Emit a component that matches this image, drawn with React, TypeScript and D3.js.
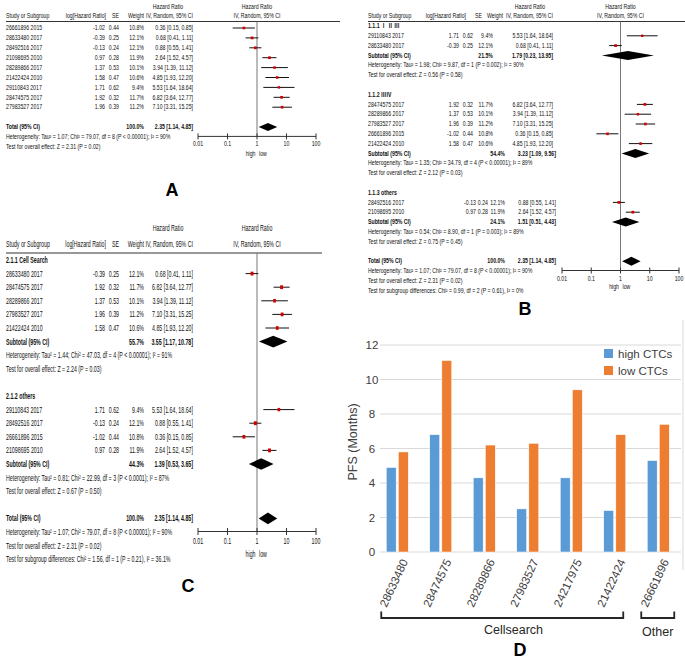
import React from 'react';
import * as d3 from 'd3';

// ---------------- data ----------------
const studyIds = ['26661896 2015', '28633480 2017', '28492516 2017', '21098695 2010', '28289866 2017', '21422424 2010', '29110843 2017', '28474575 2017', '27983527 2017'];
const logHR = [-1.02, -0.39, -0.13, 0.97, 1.37, 1.58, 1.71, 1.92, 1.96];
const seLogHR = [0.44, 0.25, 0.24, 0.28, 0.53, 0.47, 0.62, 0.32, 0.39];
const weightPct = [10.8, 12.1, 12.1, 11.9, 10.1, 10.6, 9.4, 11.7, 11.2];
const hrValue = [0.36, 0.68, 0.88, 2.64, 3.94, 4.85, 5.53, 6.82, 7.10];
const hrLower = [0.15, 0.41, 0.55, 1.52, 1.39, 1.93, 1.64, 3.64, 3.31];
const hrUpper = [0.85, 1.11, 1.41, 4.57, 11.12, 12.20, 18.64, 12.77, 15.25];

const totalWeight = 100.0;
const totalHR = 2.35;
const totalLower = 1.14;
const totalUpper = 4.85;
const totalHet = 'Heterogeneity: Tau² = 1.07; Chi² = 79.07, df = 8 (P < 0.00001); I² = 90%';
const totalTest = 'Test for overall effect: Z = 2.31 (P = 0.02)';

const headerTop = 'Hazard Ratio';
const headerCols = ['Study or Subgroup', 'log[Hazard Ratio]', 'SE', 'Weight', 'IV, Random, 95% CI'];
const axisTicks = [0.01, 0.1, 1, 10, 100];
const axisTickLabels = ['0.01', '0.1', '1', '10', '100'];
const favourLabels = ['high', 'low'];

// Panel B subgroups
const bGroupNames = ['1.1.1 Ⅰ Ⅱ Ⅲ', '1.1.2 ⅢⅣ', '1.1.3 others'];
const bGroupStudies = [
  ['29110843 2017', '28633480 2017'],
  ['28474575 2017', '28289866 2017', '27983527 2017', '26661896 2015', '21422424 2010'],
  ['28492516 2017', '21098695 2010'],
];
const bSubWeight = [21.5, 54.4, 24.1];
const bSubHR = [1.79, 3.23, 1.51];
const bSubLower = [0.23, 1.09, 0.51];
const bSubUpper = [13.95, 9.56, 4.43];
const bSubHet = [
  'Heterogeneity: Tau² = 1.98; Chi² = 9.87, df = 1 (P = 0.002); I² = 90%',
  'Heterogeneity: Tau² = 1.35; Chi² = 34.79, df = 4 (P < 0.00001); I² = 89%',
  'Heterogeneity: Tau² = 0.54; Chi² = 8.90, df = 1 (P = 0.003); I² = 89%',
];
const bSubTest = [
  'Test for overall effect: Z = 0.56 (P = 0.58)',
  'Test for overall effect: Z = 2.12 (P = 0.03)',
  'Test for overall effect: Z = 0.75 (P = 0.45)',
];
const bDiff = 'Test for subgroup differences: Chi² = 0.99, df = 2 (P = 0.61), I² = 0%';

// Panel C subgroups
const cGroupNames = ['2.1.1 Cell Search', '2.1.2 others'];
const cGroupStudies = [
  ['28633480 2017', '28474575 2017', '28289866 2017', '27983527 2017', '21422424 2010'],
  ['29110843 2017', '28492516 2017', '26661896 2015', '21098695 2010'],
];
const cSubWeight = [55.7, 44.3];
const cSubHR = [3.55, 1.39];
const cSubLower = [1.17, 0.53];
const cSubUpper = [10.78, 3.65];
const cSubHet = [
  'Heterogeneity: Tau² = 1.44; Chi² = 47.03, df = 4 (P < 0.00001); I² = 91%',
  'Heterogeneity: Tau² = 0.81; Chi² = 22.99, df = 3 (P < 0.0001); I² = 87%',
];
const cSubTest = [
  'Test for overall effect: Z = 2.24 (P = 0.03)',
  'Test for overall effect: Z = 0.67 (P = 0.50)',
];
const cDiff = 'Test for subgroup differences: Chi² = 1.56, df = 1 (P = 0.21), I² = 36.1%';

// Panel D
const dStudies = ['28633480', '28474575', '28289866', '27983527', '24217975', '21422424', '26661896'];
const dHighCTC = [4.9, 6.8, 4.3, 2.5, 4.3, 2.4, 5.3];
const dLowCTC = [5.8, 11.1, 6.2, 6.3, 9.4, 6.8, 7.4];
const dSeries = ['high CTCs', 'low CTCs'];
const dColors = ['#5b9bd5', '#ed7d31'];
const dYTicks = [0, 2, 4, 6, 8, 10, 12];
const dYTitle = 'PFS (Months)';
const dGroupLabels = ['Cellsearch', 'Other'];
const dGroupSpans = [[0, 5], [6, 6]];

const panelLabels = ['A', 'B', 'C', 'D'];

// ---------------- helpers ----------------
type Grp = { name: string; ids: string[]; w: number; hr: number; lo: number; hi: number; het: string; test: string };
type Line = { line: number; kind: 'group' | 'study' | 'sub' | 'note'; text?: string; i?: number; w?: number; hr?: number; lo?: number; hi?: number };

function makeGroups(names: string[], ids: string[][], w: number[], hr: number[], lo: number[], hi: number[], het: string[], test: string[]): Grp[] {
  return names.map((name, k) => ({ name, ids: ids[k], w: w[k], hr: hr[k], lo: lo[k], hi: hi[k], het: het[k], test: test[k] }));
}

function buildLines(groups: Grp[] | null, diff: string | null) {
  const lines: Line[] = [];
  let n = 0;
  const study = (id: string) => {
    lines.push({ line: n++, kind: 'study', i: studyIds.indexOf(id) });
  };
  if (!groups) {
    studyIds.forEach(study);
    n++;
  } else {
    groups.forEach((g) => {
      lines.push({ line: n++, kind: 'group', text: g.name });
      g.ids.forEach(study);
      lines.push({ line: n++, kind: 'sub', text: 'Subtotal (95% CI)', w: g.w, hr: g.hr, lo: g.lo, hi: g.hi });
      lines.push({ line: n++, kind: 'note', text: g.het });
      lines.push({ line: n++, kind: 'note', text: g.test });
      n++;
    });
  }
  lines.push({ line: n++, kind: 'sub', text: 'Total (95% CI)', w: totalWeight, hr: totalHR, lo: totalLower, hi: totalUpper });
  const hetLine = n;
  lines.push({ line: n++, kind: 'note', text: totalHet });
  lines.push({ line: n++, kind: 'note', text: totalTest });
  if (diff) lines.push({ line: n++, kind: 'note', text: diff });
  return { lines, hetLine };
}

type Cols = { name: number; log: number; se: number; w: number; ci: number };
type Cfg = {
  y0: number; step: number; fs: number; sx: number;
  cols: Cols; colsAlt?: Cols; altFrom?: number;
  h1y: number; h2y: number; ruleY: number; ruleX0: number; ruleX1: number;
  hcols: Cols; hrC: number;
  px0: number; px1: number; dh: number; sq: number; sqY: number; tickDy: number; favDy: number; tick: number;
};

const fmtCI = (h: number, l: number, u: number) => `${h.toFixed(2)} [${l.toFixed(2)}, ${u.toFixed(2)}]`;

function Forest({ cfg, groups, diff }: { cfg: Cfg; groups: Grp[] | null; diff: string | null }) {
  const { lines, hetLine } = buildLines(groups, diff);
  const y = d3.scaleLinear().domain([0, 1]).range([cfg.y0, cfg.y0 + cfg.step]);
  const x = d3.scaleLog().domain([0.01, 100]).range([cfg.px0, cfg.px1]).clamp(true);
  const axisY = y(hetLine) - 0.5;
  const vx = x(1);
  const T = (key: string, xx: number, yy: number, s: string, anchor = 'start', bold = false) => (
    <text key={key} transform={`translate(${xx},${yy}) scale(${cfg.sx},1)`} textAnchor={anchor}
      dominantBaseline="central" fontSize={cfg.fs} fontWeight={bold ? 'bold' : 'normal'} fill="#111">{s}</text>
  );
  const els: any[] = [];
  // header
  els.push(T('h1a', cfg.hrC, cfg.h1y, headerTop, 'middle'));
  els.push(T('h1b', vx, cfg.h1y, headerTop, 'middle'));
  els.push(T('h2a', cfg.hcols.name, cfg.h2y, headerCols[0]));
  els.push(T('h2b', cfg.hcols.log, cfg.h2y, headerCols[1], 'end'));
  els.push(T('h2c', cfg.hcols.se, cfg.h2y, headerCols[2], 'end'));
  els.push(T('h2d', cfg.hcols.w, cfg.h2y, headerCols[3], 'end'));
  els.push(T('h2e', cfg.hcols.ci, cfg.h2y, headerCols[4], 'end'));
  els.push(T('h2f', vx, cfg.h2y, headerCols[4], 'middle'));
  els.push(<line key="rule" x1={cfg.ruleX0} x2={cfg.ruleX1} y1={cfg.ruleY} y2={cfg.ruleY} stroke="#333" strokeWidth={1} />);
  // null line
  els.push(<line key="null" x1={vx} x2={vx} y1={cfg.ruleY} y2={axisY} stroke="#777" strokeWidth={1} />);

  lines.forEach((ln, k) => {
    const yy = y(ln.line);
    const c = cfg.colsAlt && cfg.altFrom !== undefined && ln.line >= cfg.altFrom ? cfg.colsAlt : cfg.cols;
    if (ln.kind === 'group') {
      els.push(T('g' + k, c.name, yy, ln.text!, 'start', true));
    } else if (ln.kind === 'note') {
      els.push(T('n' + k, c.name, yy, ln.text!));
    } else if (ln.kind === 'study') {
      const i = ln.i!;
      els.push(T('s0' + k, c.name, yy, studyIds[i]));
      els.push(T('s1' + k, c.log, yy, logHR[i].toFixed(2), 'end'));
      els.push(T('s2' + k, c.se, yy, seLogHR[i].toFixed(2), 'end'));
      els.push(T('s3' + k, c.w, yy, weightPct[i].toFixed(1) + '%', 'end'));
      els.push(T('s4' + k, c.ci, yy, fmtCI(hrValue[i], hrLower[i], hrUpper[i]), 'end'));
      els.push(<line key={'ci' + k} x1={x(hrLower[i])} x2={x(hrUpper[i])} y1={yy} y2={yy} stroke="#111" strokeWidth={1} />);
      const s = cfg.sq * Math.sqrt(weightPct[i] / 10);
      els.push(<rect key={'sq' + k} x={x(hrValue[i]) - s / 2} y={yy - (s * cfg.sqY) / 2} width={s} height={s * cfg.sqY} fill="#d40000" />);
    } else if (ln.kind === 'sub') {
      els.push(T('b0' + k, c.name, yy, ln.text!, 'start', true));
      els.push(T('b3' + k, c.w, yy, ln.w!.toFixed(1) + '%', 'end', true));
      els.push(T('b4' + k, c.ci, yy, fmtCI(ln.hr!, ln.lo!, ln.hi!), 'end', true));
      const pts = [[x(ln.lo!), yy], [x(ln.hr!), yy - cfg.dh], [x(ln.hi!), yy], [x(ln.hr!), yy + cfg.dh]];
      els.push(<polygon key={'d' + k} points={pts.map((p) => p.join(',')).join(' ')} fill="#000" />);
    }
  });

  // axis
  els.push(<line key="ax" x1={x(0.01)} x2={x(100)} y1={axisY} y2={axisY} stroke="#333" strokeWidth={1} />);
  axisTicks.forEach((tv, k) => {
    els.push(<line key={'tk' + k} x1={x(tv)} x2={x(tv)} y1={axisY - cfg.tick} y2={axisY + cfg.tick} stroke="#333" strokeWidth={1} />);
    els.push(T('tl' + k, x(tv), axisY + cfg.tickDy, axisTickLabels[k], 'middle'));
  });
  els.push(T('fav0', vx - 1.5, axisY + cfg.favDy, favourLabels[0], 'end'));
  els.push(T('fav1', vx + 2, axisY + cfg.favDy, favourLabels[1], 'start'));
  return <g fontFamily="'Liberation Sans', 'Noto Sans CJK SC', Arial, sans-serif">{els}</g>;
}

const colsAC: Cols = { name: 6, log: 105, se: 119, w: 144, ci: 193 };

const cfgA: Cfg = {
  y0: 28, step: 9.9, fs: 6.6, sx: 0.79, cols: colsAC,
  h1y: 7, h2y: 16, ruleY: 21.5, ruleX0: 6, ruleX1: 340,
  hcols: { name: 6, log: 106, se: 119, w: 144, ci: 193 }, hrC: 168,
  px0: 198, px1: 316, dh: 4, sq: 2.5, sqY: 1, tickDy: 7.5, favDy: 17, tick: 3,
};
const cfgB: Cfg = {
  y0: 26, step: 9.8, fs: 6.6, sx: 0.79,
  cols: { name: 368, log: 459, se: 473, w: 493, ci: 553 },
  colsAlt: { name: 368, log: 476, se: 488, w: 505, ci: 556 }, altFrom: 13,
  h1y: 7, h2y: 16, ruleY: 21.5, ruleX0: 368, ruleX1: 685,
  hcols: { name: 368, log: 466, se: 482, w: 503, ci: 553 }, hrC: 530,
  px0: 562, px1: 679, dh: 4.5, sq: 2.5, sqY: 1, tickDy: 8, favDy: 16, tick: 3,
};
const cfgC: Cfg = {
  y0: 260, step: 13.6, fs: 8.5, sx: 0.62, cols: colsAC,
  h1y: 228, h2y: 244, ruleY: 253, ruleX0: 6, ruleX1: 322,
  hcols: { name: 6, log: 106, se: 119, w: 144, ci: 193 }, hrC: 168,
  px0: 198, px1: 316, dh: 5.8, sq: 2.7, sqY: 1.3, tickDy: 9, favDy: 22, tick: 3.5,
};

function BarPanel() {
  const x0 = d3.scaleBand().domain(dStudies).range([375.5, 680]);
  const pairW = 22;
  const x1 = d3.scaleBand().domain(dSeries).range([0, pairW]).paddingInner(0.18);
  const y = d3.scaleLinear().domain([0, 12]).range([552, 345]);
  const cx = (i: number) => x0(dStudies[i])! + x0.bandwidth() / 2;
  const values = [dHighCTC, dLowCTC];
  const txt = '#404040';
  return (
    <g fontFamily="'Liberation Sans', Arial, sans-serif">
      <line x1={683} x2={683} y1={320} y2={570} stroke="#d9d9d9" />
      {dYTicks.map((t) => (
        <g key={'gy' + t}>
          <line x1={380} x2={681} y1={y(t)} y2={y(t)} stroke="#d9d9d9" strokeWidth={1} />
          <text x={372} y={y(t)} textAnchor="middle" dominantBaseline="central" fontSize={11.5} fill={txt}>{t}</text>
        </g>
      ))}
      <text transform={`translate(353,442) rotate(-90)`} textAnchor="middle" dominantBaseline="central" fontSize={12.5} fill={txt}>{dYTitle}</text>
      {dStudies.map((id, i) => (
        <g key={id}>
          {dSeries.map((s, k) => (
            <rect key={s} x={x0(id)! + (x0.bandwidth() - pairW) / 2 + x1(s)!} y={y(values[k][i])}
              width={x1.bandwidth()} height={y(0) - y(values[k][i])} fill={dColors[k]} stroke="#ffffff" strokeWidth={0.5} />
          ))}
          <text transform={`translate(${cx(i) + 11},561.5) rotate(-65)`} textAnchor="end" fontSize={11.5} fill={txt}>{id}</text>
        </g>
      ))}
      {dSeries.map((s, k) => (
        <g key={'lg' + s}>
          <rect x={604} y={349 + k * 17} width={9} height={9} fill={dColors[k]} />
          <text x={618} y={353.5 + k * 17} dominantBaseline="central" fontSize={11.5} fill={txt}>{s}</text>
        </g>
      ))}
      {dGroupSpans.map(([a, b], k) => {
        const left = k === 0 ? cx(a) - 16 : cx(a) - 17;
        const right = k === 0 ? cx(b) + 8.5 : cx(b) + 16;
        const lx = k === 0 ? (cx(a) + cx(b)) / 2 + 7.5 : (left + right) / 2;
        return (
          <g key={'br' + k}>
            <path d={`M${left},611.5V618H${right}V611.5`} fill="none" stroke="#262626" strokeWidth={1.8} />
            <text x={lx} y={k === 0 ? 630 : 632} textAnchor="middle" dominantBaseline="central" fontSize={12.5} fill="#262626">{dGroupLabels[k]}</text>
          </g>
        );
      })}
    </g>
  );
}

export default function App() {
  const groupsB = makeGroups(bGroupNames, bGroupStudies, bSubWeight, bSubHR, bSubLower, bSubUpper, bSubHet, bSubTest);
  const groupsC = makeGroups(cGroupNames, cGroupStudies, cSubWeight, cSubHR, cSubLower, cSubUpper, cSubHet, cSubTest);
  const labelPos = [[172, 196], [525, 315], [188, 592], [520, 655.5]];
  return (
    <svg width={685} height={660} style={{ position: 'absolute', left: 0, top: 0, background: '#fff' }}
      fontFamily="'Liberation Sans', Arial, sans-serif">
      <rect x={0} y={0} width={685} height={660} fill="#fff" />
      <Forest cfg={cfgA} groups={null} diff={null} />
      <Forest cfg={cfgB} groups={groupsB} diff={bDiff} />
      <Forest cfg={cfgC} groups={groupsC} diff={cDiff} />
      <BarPanel />
      {panelLabels.map((l, k) => (
        <text key={l} x={labelPos[k][0]} y={labelPos[k][1]} textAnchor="middle" fontSize={18} fontWeight="bold" fill="#000">{l}</text>
      ))}
    </svg>
  );
}
